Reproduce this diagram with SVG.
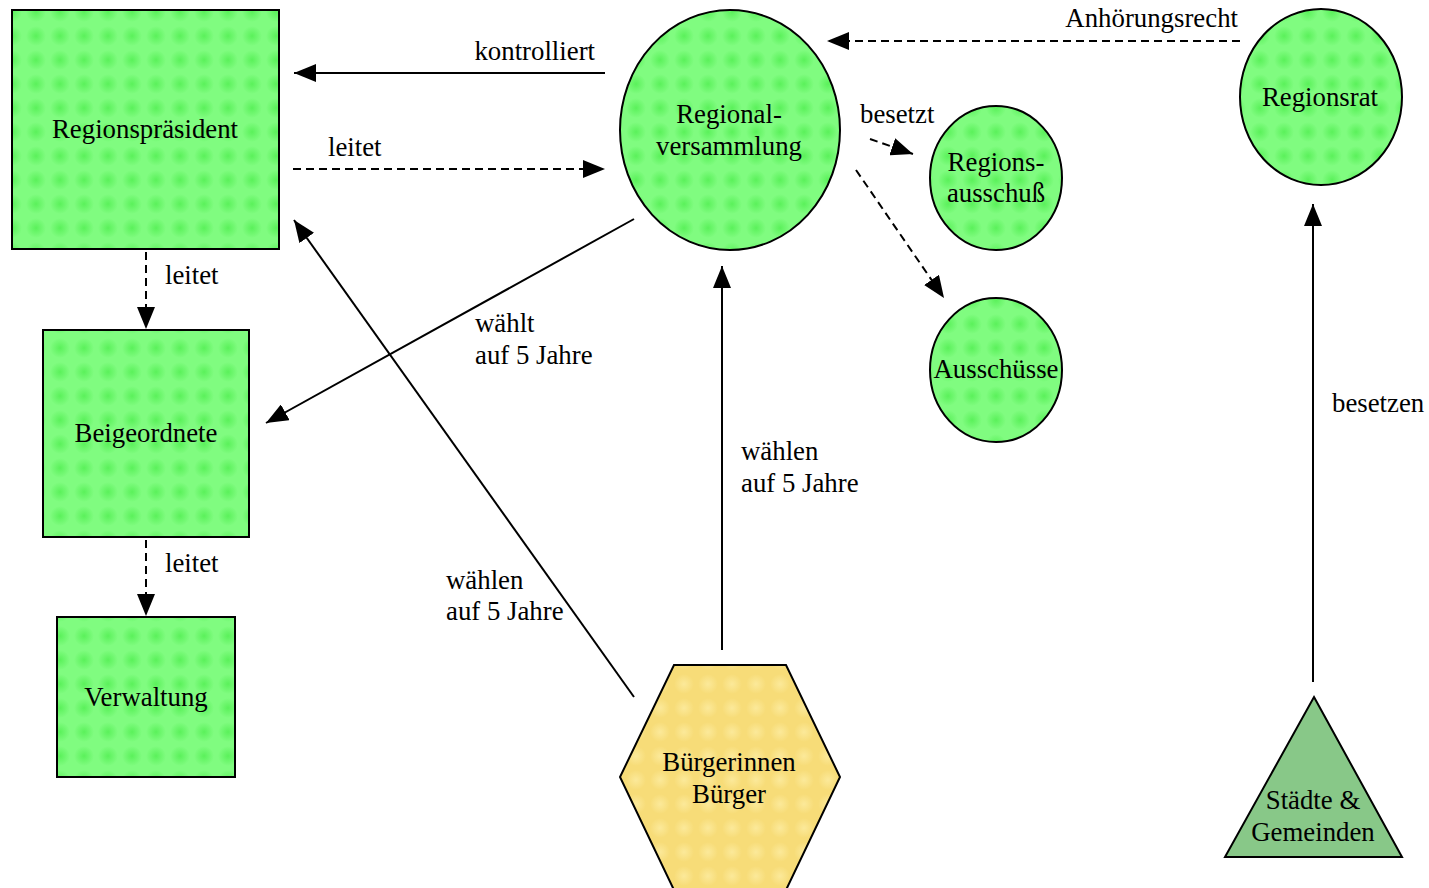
<svg xmlns="http://www.w3.org/2000/svg" width="1429" height="888" viewBox="0 0 1429 888" font-family="Liberation Serif, Times New Roman, serif" font-size="26.8">
<style>
.g{fill:url(#pg);stroke:#000;stroke-width:2}
.y{fill:url(#py);stroke:#000;stroke-width:2}
.t{fill:url(#pt);stroke:#000;stroke-width:2}
.c{text-anchor:middle}
.r{text-anchor:end}
.ln{stroke:#000;stroke-width:2;fill:none}
.d{stroke-dasharray:8 5}
</style>
<defs>
<radialGradient id="rg"><stop offset="0" stop-color="#3ce83c" stop-opacity="0.55"/><stop offset="1" stop-color="#3ce83c" stop-opacity="0"/></radialGradient>
<radialGradient id="ry"><stop offset="0" stop-color="#fff2b0" stop-opacity="0.6"/><stop offset="1" stop-color="#fff2b0" stop-opacity="0"/></radialGradient>
<pattern id="pg" width="24" height="24" patternUnits="userSpaceOnUse">
<rect width="24" height="24" fill="#80fc80"/><circle cx="12" cy="12" r="10" fill="url(#rg)"/>
</pattern>
<pattern id="py" width="24" height="24" patternUnits="userSpaceOnUse">
<rect width="24" height="24" fill="#f7dc78"/><circle cx="12" cy="12" r="10" fill="url(#ry)"/>
</pattern>
<pattern id="pt" width="24" height="24" patternUnits="userSpaceOnUse">
<rect width="24" height="24" fill="#88c888"/>
</pattern>
<marker id="ah" markerWidth="22" markerHeight="18" refX="22" refY="9" orient="auto" markerUnits="userSpaceOnUse">
<path d="M0,0 L22,9 L0,18 Z" fill="#000"/>
</marker>
</defs>

<g id="connectors">
<line class="ln" x1="605" y1="73" x2="294" y2="73" marker-end="url(#ah)"/>
<line class="ln d" x1="293" y1="169" x2="605" y2="169" marker-end="url(#ah)"/>
<line class="ln d" x1="146" y1="252" x2="146" y2="329" marker-end="url(#ah)"/>
<line class="ln d" x1="146" y1="540" x2="146" y2="616" marker-end="url(#ah)"/>
<line class="ln" x1="634" y1="219" x2="266" y2="423" marker-end="url(#ah)"/>
<line class="ln" x1="634" y1="697" x2="294" y2="220" marker-end="url(#ah)"/>
<line class="ln" x1="722" y1="650" x2="722" y2="266" marker-end="url(#ah)"/>
<line class="ln d" x1="870" y1="139" x2="913" y2="154" marker-end="url(#ah)"/>
<line class="ln d" x1="856" y1="170" x2="944" y2="298" marker-end="url(#ah)"/>
<line class="ln d" x1="1240" y1="41" x2="827" y2="41" marker-end="url(#ah)"/>
<line class="ln" x1="1313" y1="682" x2="1313" y2="204" marker-end="url(#ah)"/>
<text class="r" x="595" y="60">kontrolliert</text>
<text x="328" y="156">leitet</text>
<text x="165" y="284">leitet</text>
<text x="165" y="572">leitet</text>
<text x="475" y="332">wählt</text>
<text x="475" y="364">auf 5 Jahre</text>
<text x="446" y="589">wählen</text>
<text x="446" y="620">auf 5 Jahre</text>
<text x="741" y="460">wählen</text>
<text x="741" y="492">auf 5 Jahre</text>
<text x="860" y="123">besetzt</text>
<text class="r" x="1238" y="27">Anhörungsrecht</text>
<text x="1332" y="412">besetzen</text>
</g>

<g id="regionspraesident">
<rect class="g" x="12" y="10" width="267" height="239"/>
<text class="c" x="145" y="138">Regionspräsident</text>
</g>
<g id="beigeordnete">
<rect class="g" x="43" y="330" width="206" height="207"/>
<text class="c" x="146" y="442">Beigeordnete</text>
</g>
<g id="verwaltung">
<rect class="g" x="57" y="617" width="178" height="160"/>
<text class="c" x="146" y="706">Verwaltung</text>
</g>
<g id="regionalversammlung">
<ellipse class="g" cx="730" cy="130" rx="110" ry="120"/>
<text class="c" x="729" y="123">Regional-</text>
<text class="c" x="729" y="155">versammlung</text>
</g>
<g id="regionsausschuss">
<ellipse class="g" cx="996" cy="178" rx="66" ry="72"/>
<text class="c" x="996" y="171">Regions-</text>
<text class="c" x="996" y="202">ausschuß</text>
</g>
<g id="ausschuesse">
<ellipse class="g" cx="996" cy="370" rx="66" ry="72"/>
<text class="c" x="996" y="378">Ausschüsse</text>
</g>
<g id="regionsrat">
<ellipse class="g" cx="1321" cy="97" rx="81" ry="88"/>
<text class="c" x="1320" y="106">Regionsrat</text>
</g>
<g id="buerger">
<polygon class="y" points="674,665 786,665 840,777 786,890 674,890 620,777"/>
<text class="c" x="729" y="771">Bürgerinnen</text>
<text class="c" x="729" y="803">Bürger</text>
</g>
<g id="staedte">
<polygon class="t" points="1314,697 1402,857 1225,857"/>
<text class="c" x="1313" y="809">Städte &amp;</text>
<text class="c" x="1313" y="841">Gemeinden</text>
</g>
</svg>
